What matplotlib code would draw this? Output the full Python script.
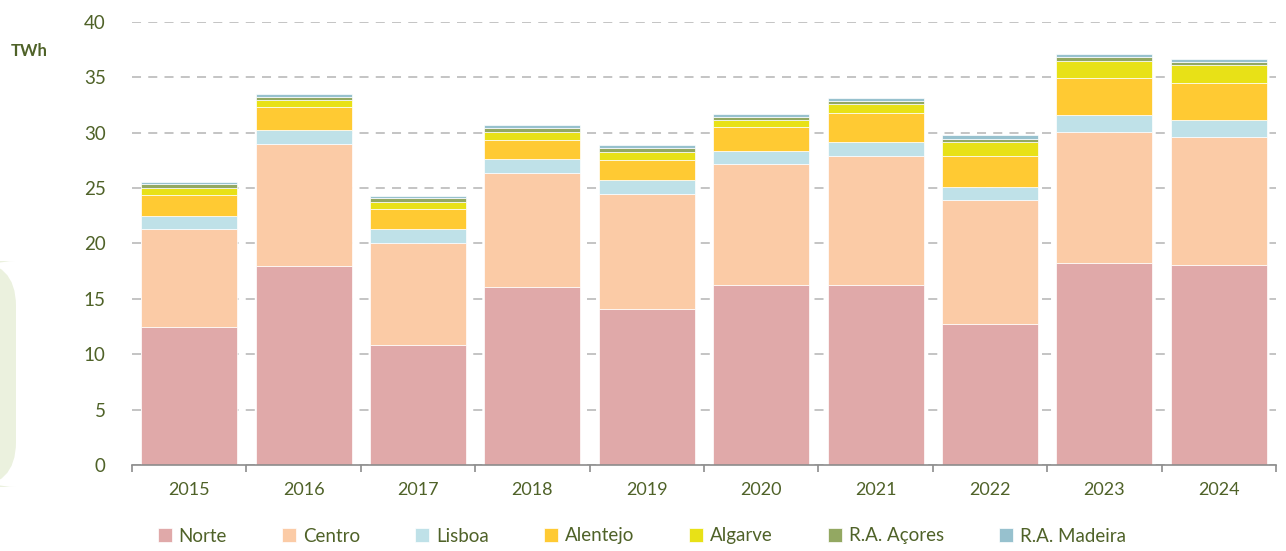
import matplotlib.pyplot as plt
from matplotlib.patches import FancyBboxPatch
import numpy as np

years = ['2015', '2016', '2017', '2018', '2019', '2020', '2021', '2022', '2023', '2024']
regions = ['Norte', 'Centro', 'Lisboa', 'Alentejo', 'Algarve', 'R.A. Açores', 'R.A. Madeira']

norte = [12.46, 18.00, 10.84, 16.10, 14.09, 16.22, 16.22, 12.73, 18.24, 18.06]
centro = [8.84, 11.02, 9.18, 10.27, 10.38, 10.98, 11.71, 11.20, 11.86, 11.58]
lisboa = [1.18, 1.23, 1.28, 1.23, 1.23, 1.15, 1.23, 1.17, 1.50, 1.51]
alentejo = [1.87, 2.05, 1.78, 1.72, 1.87, 2.14, 2.59, 2.83, 3.31, 3.31]
algarve = [0.69, 0.66, 0.70, 0.75, 0.72, 0.63, 0.82, 1.23, 1.59, 1.63]
acores = [0.30, 0.30, 0.30, 0.33, 0.33, 0.30, 0.30, 0.30, 0.34, 0.33]
madeira = [0.21, 0.24, 0.24, 0.27, 0.24, 0.25, 0.27, 0.30, 0.27, 0.24]

colors = ['#E0A9A9', '#FBCBA6', '#BFE1E8', '#FFCA33', '#E8E117', '#93A862', '#97C1CE']
txt = '#4F6228'
fam = ['Lato', 'DejaVu Sans']

plt.rcParams['font.family'] = fam

fig = plt.figure(figsize=(12.86, 5.51), dpi=100)
ax = fig.add_axes([132 / 1286, 1 - 465 / 551, (1276 - 132) / 1286, (465 - 22) / 551])

# light green box at the left edge
box = FancyBboxPatch((-30 / 1286, 1 - 487 / 551), 46 / 1286, 226 / 551,
                     boxstyle='round,pad=0,rounding_size=0.035',
                     transform=fig.transFigure, facecolor='#EBF1DE',
                     edgecolor='none', mutation_aspect=1286 / 551)
fig.patches.append(box)

x = np.arange(len(years))
bottom = np.zeros(len(years))
series = [norte, centro, lisboa, alentejo, algarve, acores, madeira]
for name, vals, c in zip(regions, series, colors):
    ax.bar(x, vals, 0.84, bottom=bottom, color=c, edgecolor='white',
           linewidth=0.5, label=name, zorder=2)
    bottom += np.array(vals)

ax.set_xlim(-0.5, len(years) - 0.5)
ax.set_ylim(0, 40)
ax.set_yticks(range(0, 41, 5))
ax.yaxis.grid(True, color='#BFBFBF', linestyle=(0, (5, 4)), linewidth=1.3, zorder=0)
ax.set_axisbelow(True)

ax.set_xticks(x)
ax.set_xticklabels(years)
ax.set_xticks(np.arange(-0.5, len(years)), minor=True)
ax.tick_params(axis='x', which='major', length=0, pad=12, labelsize=13, labelcolor=txt)
ax.tick_params(axis='x', which='minor', length=5, width=1.2, color='#8C8C8C', direction='out')
ax.tick_params(axis='y', length=0, pad=19, labelsize=13.5, labelcolor=txt)

for s in ['top', 'right', 'left']:
    ax.spines[s].set_visible(False)
ax.spines['bottom'].set_color('#8C8C8C')
ax.spines['bottom'].set_linewidth(1.2)

fig.text(11 / 1286, 1 - 51 / 551, 'TWh', fontsize=12, fontweight='bold', color=txt,
         va='center', ha='left')

handles, labels = ax.get_legend_handles_labels()
leg = fig.legend(handles, labels, loc='center', ncol=7, frameon=False,
                 bbox_to_anchor=(0.499, 1 - 536 / 551), fontsize=13.5,
                 handlelength=0.75, handleheight=0.75, handletextpad=0.35,
                 columnspacing=2.95)
for t in leg.get_texts():
    t.set_color(txt)

fig.savefig('out.png', dpi=100)
